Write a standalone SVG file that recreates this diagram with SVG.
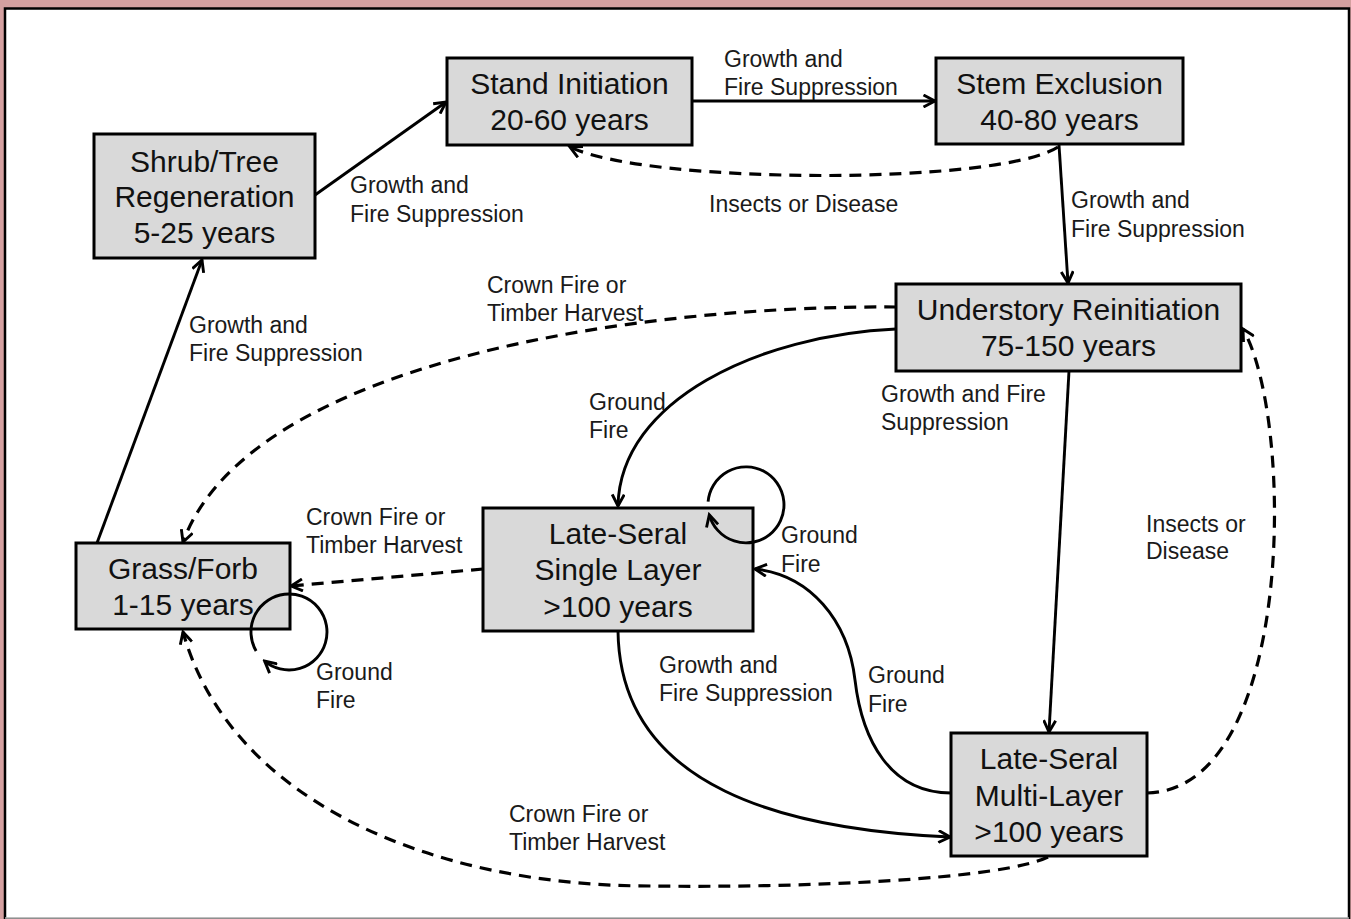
<svg xmlns="http://www.w3.org/2000/svg" width="1351" height="919" viewBox="0 0 1351 919">
<style>
.box{fill:#d9d9d9;stroke:#000;stroke-width:3}
.nt{font-family:"Liberation Sans",Arial,sans-serif;font-size:30px;fill:#111;text-anchor:middle}
.lb{font-family:"Liberation Sans",Arial,sans-serif;font-size:23px;fill:#1a1a1a}
.c{fill:none;stroke:#000;stroke-width:2.9}
.d{fill:none;stroke:#000;stroke-width:3.2;stroke-dasharray:12,8}
</style>
<defs>
<marker id="arr" viewBox="0 0 16 14" markerWidth="16" markerHeight="14" refX="13.5" refY="7" orient="auto" markerUnits="userSpaceOnUse">
<path d="M2,1 L13.5,7 L2,13" fill="none" stroke="#000" stroke-width="2.9"/>
</marker>
</defs>
<rect x="0" y="0" width="1351" height="919" fill="#d4a0a0"/>
<rect x="5" y="8.5" width="1344" height="911" fill="#fff" stroke="#000" stroke-width="2.5"/>
<line x1="5" y1="918" x2="1349" y2="918" stroke="#aaa" stroke-width="1.5"/>

<g id="connectors">
<line class="c" x1="315" y1="195" x2="446" y2="102" marker-end="url(#arr)"/>
<line class="c" x1="97" y1="543" x2="202" y2="260" marker-end="url(#arr)"/>
<line class="c" x1="692" y1="101" x2="935" y2="101" marker-end="url(#arr)"/>
<path class="d" d="M1058,147 C1000,185 650,185 570,147" marker-end="url(#arr)"/>
<line class="c" x1="1059" y1="145" x2="1068" y2="283" marker-end="url(#arr)"/>
<path class="d" d="M896,307 C640,305 250,360 183,542" marker-end="url(#arr)"/>
<path class="c" d="M896,329 C760,335 620,400 618,506" marker-end="url(#arr)"/>
<line class="c" x1="1069" y1="371" x2="1049" y2="732" marker-end="url(#arr)"/>
<path class="d" d="M1147,793 C1295,790 1295,420 1243,329" marker-end="url(#arr)"/>
<path class="d" d="M483,569 L291,586" marker-end="url(#arr)"/>
<path class="c" d="M618,631 C620,790 790,830 950,837" marker-end="url(#arr)"/>
<path class="c" d="M951,793 C890,793 862,740 855,680 C848,620 810,575 755,569" marker-end="url(#arr)"/>
<path class="d" d="M1048,857 C1000,880 800,888 650,886 C430,886 230,800 183,632" marker-end="url(#arr)"/>
</g>

<g id="shrub">
<rect class="box" x="94" y="134" width="221" height="124"/>
<text class="nt" x="204.5" y="172">Shrub/Tree</text>
<text class="nt" x="204.5" y="207">Regeneration</text>
<text class="nt" x="204.5" y="243">5-25 years</text>
</g>
<g id="stand">
<rect class="box" x="447" y="58" width="245" height="87"/>
<text class="nt" x="569.5" y="94">Stand Initiation</text>
<text class="nt" x="569.5" y="130">20-60 years</text>
</g>
<g id="stem">
<rect class="box" x="936" y="58" width="247" height="86"/>
<text class="nt" x="1059.5" y="94">Stem Exclusion</text>
<text class="nt" x="1059.5" y="130">40-80 years</text>
</g>
<g id="understory">
<rect class="box" x="896" y="284" width="345" height="87"/>
<text class="nt" x="1068.5" y="320">Understory Reinitiation</text>
<text class="nt" x="1068.5" y="356">75-150 years</text>
</g>
<g id="single">
<rect class="box" x="483" y="508" width="270" height="123"/>
<text class="nt" x="618" y="544">Late-Seral</text>
<text class="nt" x="618" y="580">Single Layer</text>
<text class="nt" x="618" y="617">&gt;100 years</text>
</g>
<g id="multi">
<rect class="box" x="951" y="733" width="196" height="123"/>
<text class="nt" x="1049" y="769">Late-Seral</text>
<text class="nt" x="1049" y="806">Multi-Layer</text>
<text class="nt" x="1049" y="842">&gt;100 years</text>
</g>
<g id="grass">
<rect class="box" x="76" y="543" width="214" height="86"/>
<text class="nt" x="183" y="579">Grass/Forb</text>
<text class="nt" x="183" y="615">1-15 years</text>
</g>

<g id="loops">
<path class="c" d="M708.1,501.7 A38,38 0 1 1 709.3,514.8" marker-end="url(#arr)"/>
<path class="c" d="M256.1,651 A38,38 0 1 1 264.6,661.1" marker-end="url(#arr)"/>
</g>

<g id="labels">
<text class="lb" x="724" y="67">Growth and</text>
<text class="lb" x="724" y="95">Fire Suppression</text>
<text class="lb" x="350" y="193">Growth and</text>
<text class="lb" x="350" y="222">Fire Suppression</text>
<text class="lb" x="709" y="212">Insects or Disease</text>
<text class="lb" x="1071" y="208">Growth and</text>
<text class="lb" x="1071" y="237">Fire Suppression</text>
<text class="lb" x="487" y="293">Crown Fire or</text>
<text class="lb" x="487" y="321">Timber Harvest</text>
<text class="lb" x="189" y="333">Growth and</text>
<text class="lb" x="189" y="361">Fire Suppression</text>
<text class="lb" x="881" y="402">Growth and Fire</text>
<text class="lb" x="881" y="430">Suppression</text>
<text class="lb" x="589" y="410">Ground</text>
<text class="lb" x="589" y="438">Fire</text>
<text class="lb" x="306" y="525">Crown Fire or</text>
<text class="lb" x="306" y="553">Timber Harvest</text>
<text class="lb" x="781" y="543">Ground</text>
<text class="lb" x="781" y="572">Fire</text>
<text class="lb" x="1146" y="532">Insects or</text>
<text class="lb" x="1146" y="559">Disease</text>
<text class="lb" x="316" y="680">Ground</text>
<text class="lb" x="316" y="708">Fire</text>
<text class="lb" x="659" y="673">Growth and</text>
<text class="lb" x="659" y="701">Fire Suppression</text>
<text class="lb" x="868" y="683">Ground</text>
<text class="lb" x="868" y="712">Fire</text>
<text class="lb" x="509" y="822">Crown Fire or</text>
<text class="lb" x="509" y="850">Timber Harvest</text>
</g>
</svg>
